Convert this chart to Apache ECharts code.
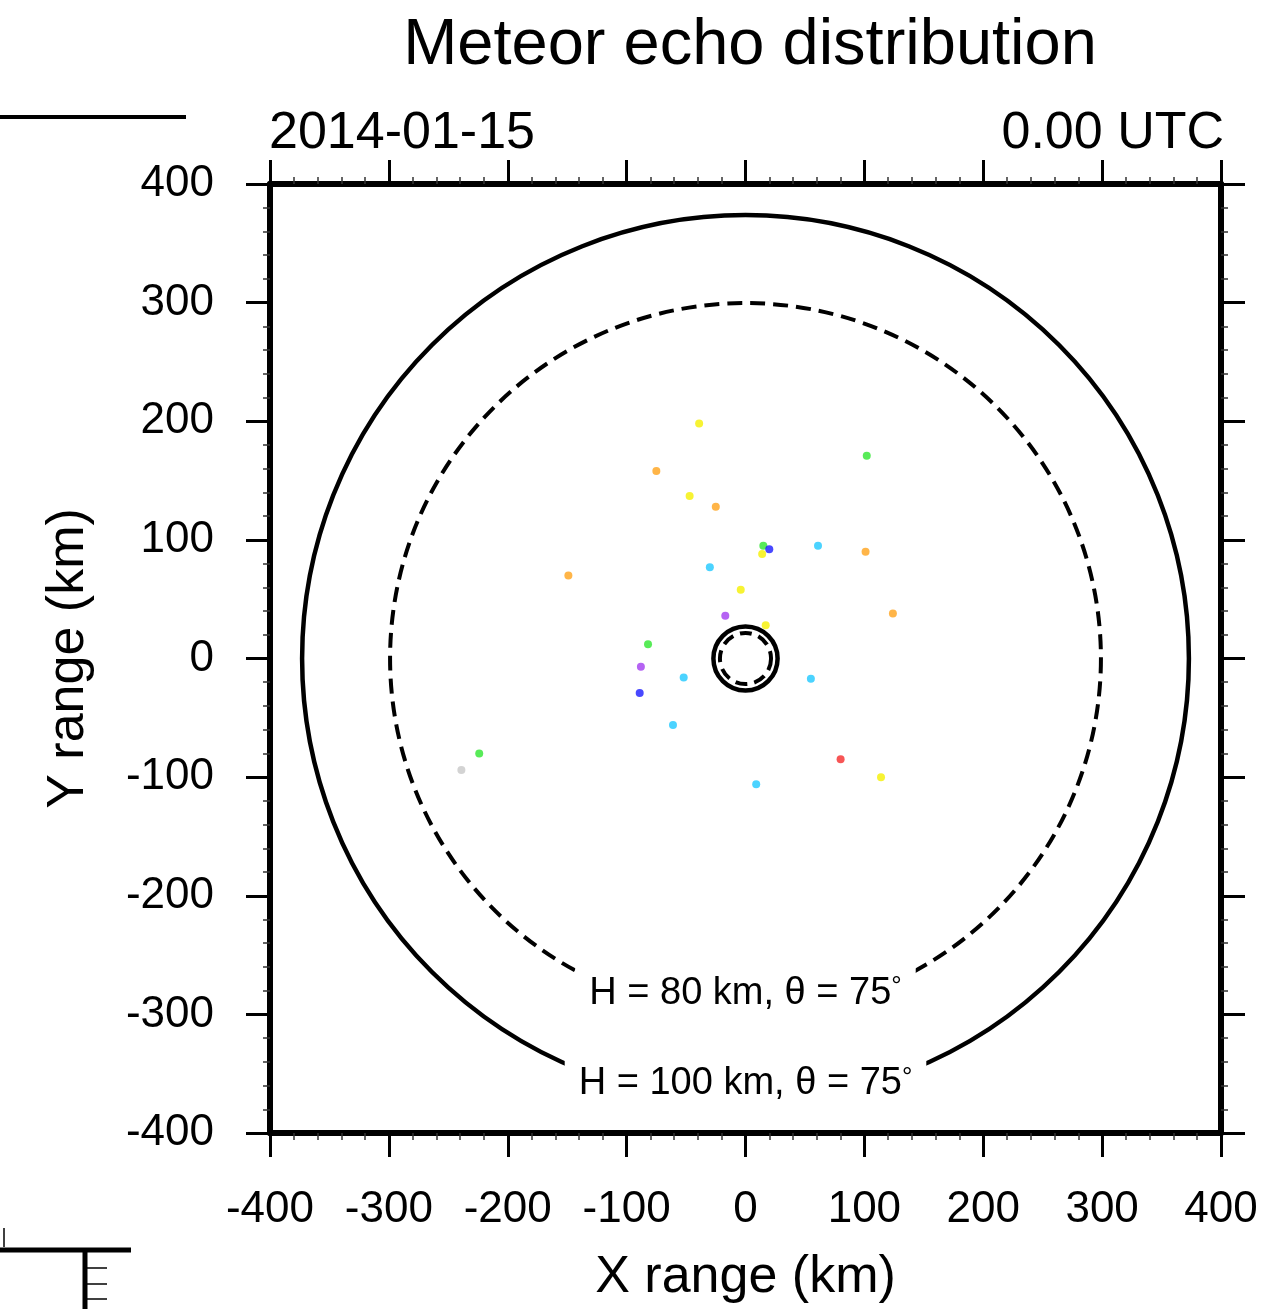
<!DOCTYPE html>
<html>
<head>
<meta charset="utf-8">
<script src="https://cdn.jsdelivr.net/npm/echarts@6/dist/echarts.min.js"></script>
<style>
  html, body { margin: 0; padding: 0; background: #fff; }
  #main { width: 1284px; height: 1309px; }
</style>
</head>
<body>
<div id="main"></div>
<script>
// axis ticks
let axisMin = -400;
let axisMax = 400;
let axisStep = 100;

// echo points [x km, y km], grouped by colour
let yellowPts = [[-39, 198], [-47, 137], [14, 88], [-4, 58], [17, 28], [114, -100]];
let greenPts = [[102, 171], [15, 95], [-82, 12], [-224, -80]];
let orangePts = [[-75, 158], [-25, 128], [101, 90], [124, 38], [-149, 70]];
let cyanPts = [[61, 95], [-30, 77], [-52, -16], [55, -17], [-61, -56], [9, -106]];
let bluePts = [[20, 92], [-89, -29]];
let purplePts = [[-17, 36], [-88, -7]];
let redPts = [[80, -85]];
let grayPts = [[-239, -94]];

// range rings (km)
let solidRadii = [373, 27];
let dashedRadii = [299, 21.5];

// ring labels
let ringLabels = ["H = 80 km, θ = 75", "H = 100 km, θ = 75"];
let ringLabelR = [299, 373];

const FONT = "Liberation Sans";
let myChart = echarts.init(document.getElementById("main"));

function ringSeries(radii, bigDash, smallDash, width) {
    return {
        type: "custom",
        coordinateSystem: "cartesian2d",
        silent: true,
        z: 3,
        data: radii.map(r => [0, 0, r]),
        encode: { x: 0, y: 1 },
        renderItem: function (params, api) {
            let c = api.coord([api.value(0), api.value(1)]);
            let r = api.size([api.value(2), 0])[0];
            let dash = api.value(2) > 100 ? bigDash : smallDash;
            return {
                type: "circle",
                shape: { cx: c[0], cy: c[1], r: r },
                style: { fill: null, stroke: "#000", lineWidth: width, lineDash: dash }
            };
        }
    };
}

function dotSeries(pts, color) {
    return {
        type: "scatter",
        symbol: "circle",
        symbolSize: 8,
        z: 5,
        itemStyle: { color: color },
        data: pts
    };
}

function xAx(pos, showLabel) {
    return {
        type: "value",
        position: pos,
        min: axisMin,
        max: axisMax,
        interval: axisStep,
        axisLine: { show: true, onZero: false, lineStyle: { color: "#000", width: 6 } },
        axisTick: { show: true, length: 24, lineStyle: { color: "#000", width: 3 } },
        minorTick: { show: true, splitNumber: 5, length: 7, lineStyle: { color: "#333", width: 1.5 } },
        splitLine: { show: false },
        axisLabel: { show: showLabel, color: "#000", fontFamily: FONT, fontSize: 44, margin: 55 }
    };
}

let option = {
    backgroundColor: "#fff",
    animation: false,
    title: [
        { text: "Meteor echo distribution", left: 745, top: 9, textAlign: "center",
          textStyle: { fontFamily: FONT, fontSize: 65, fontWeight: "normal", color: "#000" } },
        { text: "2014-01-15", left: 264, top: 103,
          textStyle: { fontFamily: FONT, fontSize: 52, fontWeight: "normal", color: "#000" } },
        { text: "0.00 UTC", right: 55, top: 103,
          textStyle: { fontFamily: FONT, fontSize: 52, fontWeight: "normal", color: "#000" } }
    ],
    grid: { left: 270, right: 63, top: 184, bottom: 172, containLabel: false },
    xAxis: [
        Object.assign(xAx("bottom", true), {
            name: "X range (km)", nameLocation: "middle", nameGap: 119,
            nameTextStyle: { fontFamily: FONT, fontSize: 52, color: "#000" }
        }),
        xAx("top", false)
    ],
    yAxis: [
        Object.assign(xAx("left", true), {
            name: "Y range (km)", nameLocation: "middle", nameGap: 175,
            axisLabel: { color: "#000", fontFamily: FONT, fontSize: 44, margin: 56 },
            nameTextStyle: { fontFamily: FONT, fontSize: 52, color: "#000" }
        }),
        xAx("right", false)
    ],
    graphic: [
        // cut-off bits of neighbouring panels
        { type: "line", shape: { x1: 0, y1: 117, x2: 186, y2: 117 }, style: { stroke: "#000", lineWidth: 4 } },
        { type: "line", shape: { x1: 0, y1: 1250, x2: 131, y2: 1250 }, style: { stroke: "#000", lineWidth: 5 } },
        { type: "line", shape: { x1: 85, y1: 1250, x2: 85, y2: 1309 }, style: { stroke: "#000", lineWidth: 5 } },
        { type: "line", shape: { x1: 87, y1: 1268, x2: 107, y2: 1268 }, style: { stroke: "#000", lineWidth: 1.5 } },
        { type: "line", shape: { x1: 87, y1: 1284, x2: 107, y2: 1284 }, style: { stroke: "#000", lineWidth: 1.5 } },
        { type: "line", shape: { x1: 87, y1: 1299, x2: 107, y2: 1299 }, style: { stroke: "#000", lineWidth: 1.5 } },
        { type: "line", shape: { x1: 4, y1: 1228, x2: 4, y2: 1247 }, style: { stroke: "#000", lineWidth: 1.5 } }
    ],
    series: [
        ringSeries(solidRadii, null, null, 4.5),
        ringSeries(dashedRadii, [15, 8], [12, 7], 4),
        {
            type: "custom",
            coordinateSystem: "cartesian2d",
            silent: true,
            z: 4,
            data: ringLabelR.map((r, i) => [0, -r, i]),
            encode: { x: 0, y: 1 },
            renderItem: function (params, api) {
                let p = api.coord([api.value(0), api.value(1)]);
                let idx = api.value(2);
                return {
                    type: "text",
                    x: p[0],
                    y: p[1] - (idx === 0 ? 20 : 17),
                    style: {
                        text: ringLabels[idx] + "{deg|°}",
                        fontFamily: FONT,
                        fontSize: 38,
                        fill: "#000",
                        align: "center",
                        verticalAlign: "middle",
                        backgroundColor: "#fff",
                        padding: [10, 14, 10, 14],
                        rich: { deg: { fontFamily: FONT, fontSize: 26, verticalAlign: "top", fill: "#000" } }
                    }
                };
            }
        },
        dotSeries(grayPts, "#c8c8c8"),
        dotSeries(orangePts, "#ffa31a"),
        dotSeries(cyanPts, "#1ec8ff"),
        dotSeries(purplePts, "#a33cf0"),
        dotSeries(redPts, "#f52a2a"),
        dotSeries(greenPts, "#2ee62e"),
        dotSeries(bluePts, "#1a1aff"),
        dotSeries(yellowPts, "#f5f000")
    ]
};
myChart.setOption(option);
window.addEventListener("resize", function () {
    myChart.resize();
});
</script>
</body>
</html>
